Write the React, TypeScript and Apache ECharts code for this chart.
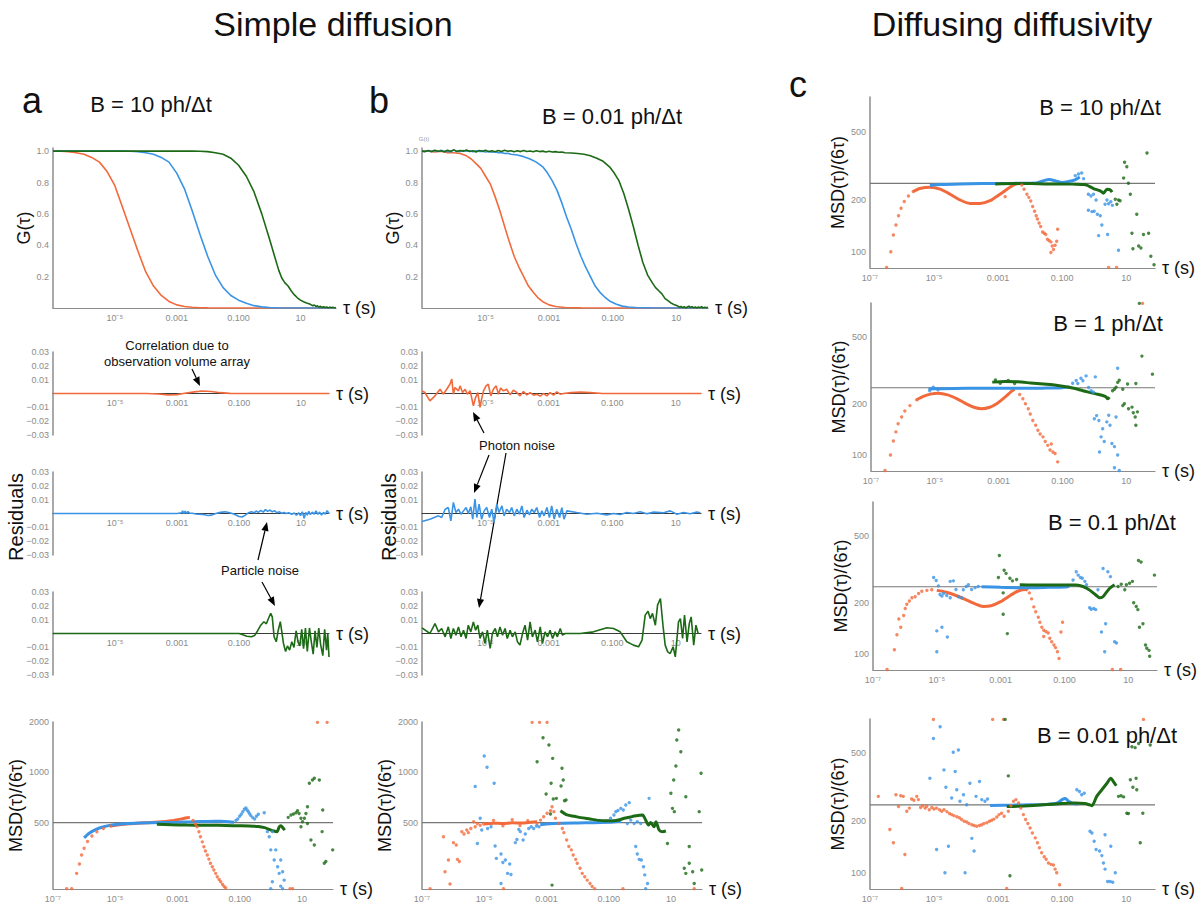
import React, { useEffect, useRef } from 'react';
import * as echarts from 'echarts';

type P = [number, number][];

const ORANGE = '#F26A3B';
const BLUE = '#3A94E6';
const GREEN = '#1C6A15';
const FONT = '"Liberation Sans", Arial, Helvetica, sans-serif';

// x values are log10(τ / s)
const X_TICK_TEXT: Record<string, string> = { '-7': '10⁻⁷', '-5': '10⁻⁵', '-3': '0.001', '-1': '0.100', '1': '10' };
const MSD_AB_TICKS = [500, 1000, 2000];
const MSD_C_TICKS = [100, 200, 500];
const MSD_TRUE_AB = 500;
const MSD_TRUE_C = 250;

// ---------- Panel a : G(tau), B = 10 ----------
const gA_orange: P = [[-7,1],[-6.75,0.999],[-6.5,0.997],[-6.25,0.99],[-6,0.98],[-5.75,0.96],[-5.5,0.93],[-5.25,0.87],[-5,0.78],[-4.75,0.64],[-4.5,0.5],[-4.25,0.36],[-4,0.23],[-3.75,0.14],[-3.5,0.08],[-3.25,0.042],[-3,0.02],[-2.75,0.01],[-2.5,0.005],[-2.25,0.002],[-2,0.001],[-1.5,0],[2.15,0]];
const gA_blue: P = [[-7,1],[-4.75,1],[-4.5,0.999],[-4.25,0.997],[-4,0.99],[-3.75,0.98],[-3.5,0.96],[-3.25,0.93],[-3,0.86],[-2.75,0.76],[-2.5,0.62],[-2.25,0.47],[-2,0.33],[-1.75,0.21],[-1.5,0.13],[-1.25,0.08],[-1,0.05],[-0.75,0.03],[-0.5,0.015],[-0.25,0.007],[0,0.003],[0.25,0.001],[0.5,0],[2.15,0]];
const gA_green: P = [[-7,1],[-2.5,1],[-2.25,0.999],[-2,0.997],[-1.75,0.99],[-1.5,0.98],[-1.25,0.955],[-1,0.91],[-0.75,0.84],[-0.5,0.74],[-0.25,0.6],[0,0.44],[0.15,0.34],[0.3,0.24],[0.4,0.19],[0.5,0.16],[0.6,0.14],[0.7,0.11],[0.8,0.085],[0.9,0.065],[1.0,0.05],[1.1,0.04],[1.2,0.032],[1.3,0.025],[1.35,0.02],[1.4,0.014],[1.45,0.019],[1.5,0.01],[1.55,0.014],[1.6,0.006],[1.65,0.011],[1.7,0.003],[1.75,0.009],[1.8,0.002],[1.85,0.007],[1.9,0.0],[1.95,0.006],[2.0,0.001],[2.05,0.005],[2.1,0.0],[2.15,0.003]];

// ---------- Panel a : residuals ----------
const rA_orange: P = [[-7,0],[-4,0],[-3.6,-0.0004],[-3.3,-0.001],[-3.0,-0.0008],[-2.8,0],[-2.5,0.001],[-2.2,0.0018],[-1.9,0.0015],[-1.6,0.0006],[-1.3,0.0001],[-1,0],[1.9,0]];
const rA_blue: P = [[-7,0],[-3.0,0],[-2.85,0.0005],[-2.82,0.002],[-2.78,-0.0002],[-2.74,0.0018],[-2.7,0],[-2.65,0.0015],[-2.6,0.0003],[-2.5,0.0002],[-2.4,-0.0004],[-2.2,-0.0006],[-2.0,-0.0015],[-1.9,-0.0012],[-1.75,0],[-1.6,0.0008],[-1.45,0.0012],[-1.3,0.0005],[-1.15,-0.0005],[-1.0,-0.0022],[-0.9,-0.0025],[-0.8,-0.0012],[-0.7,0.0005],[-0.6,0.0012],[-0.5,0.0006],[-0.45,0.0018],[-0.38,0.0008],[-0.3,0.0022],[-0.22,0.001],[-0.15,0.0028],[-0.08,0.0015],[0,0.0025],[0.07,0.0012],[0.15,0.002],[0.22,0.0005],[0.3,0.0012],[0.38,0.0002],[0.45,0.0008],[0.52,0],[0.6,0.0006],[0.7,-0.0005],[0.78,0.0004],[0.85,-0.0012],[0.92,0.0006],[0.98,-0.0015],[1.04,0.0012],[1.1,-0.0034],[1.15,0.0008],[1.2,-0.0012],[1.25,0.0015],[1.3,-0.0008],[1.36,0.001],[1.42,-0.0005],[1.48,0.0018],[1.54,-0.0006],[1.6,0.001],[1.66,-0.0012],[1.72,0.0008],[1.78,-0.0004],[1.84,0.002],[1.9,0]];
const rA_green: P = [[-7,0],[-1.0,0],[-0.9,-0.0008],[-0.75,-0.002],[-0.6,-0.0024],[-0.5,-0.0015],[-0.4,0.002],[-0.3,0.006],[-0.2,0.0085],[-0.12,0.007],[-0.05,0.011],[0.02,0.0145],[0.07,0.012],[0.13,-0.0024],[0.2,-0.006],[0.26,0.002],[0.33,0.0085],[0.38,0.001],[0.43,-0.007],[0.5,-0.013],[0.56,-0.009],[0.63,-0.012],[0.7,-0.006],[0.77,-0.01],[0.84,0.002],[0.9,-0.006],[0.96,-0.009],[1.02,0.003],[1.08,-0.011],[1.14,0.004],[1.2,-0.013],[1.27,0.004],[1.33,-0.006],[1.39,-0.015],[1.45,0.002],[1.51,-0.01],[1.57,0.004],[1.63,-0.008],[1.7,-0.016],[1.76,0.003],[1.82,-0.012],[1.86,0],[1.9,-0.017]];

// ---------- Panel a : MSD ----------
const mA_orangeDots: P = [[-6.56,201],[-6.4,201],[-6.24,248],[-6.15,282],[-6.08,320],[-6.0,351],[-5.89,385],[-5.75,415],[-5.59,440],[-5.38,461],[-5.15,476],[-2.5,515],[-2.42,490],[-2.37,472],[-2.31,440],[-2.26,411],[-2.2,383],[-2.15,358],[-2.1,338],[-2.04,320],[-1.99,302],[-1.94,285],[-1.88,272],[-1.83,260],[-1.77,248],[-1.72,237],[-1.66,228],[-1.61,221],[-1.55,213],[-1.5,207],[-1.45,203],[0.62,201],[0.7,201],[1.5,1990],[1.81,1990]];
const mA_orangeBand: P = [[-5.15,476],[-4.8,487],[-4.4,494],[-4,498],[-3.6,503],[-3.2,512],[-2.9,524],[-2.7,534],[-2.6,537]];
const mA_blueBand: P = [[-6.0,405],[-5.85,430],[-5.65,452],[-5.4,470],[-5.1,483],[-4.7,492],[-4.2,497],[-3.5,500],[-3,502],[-2.5,505],[-2,508],[-1.6,509],[-1.35,506],[-1.18,502]];
const mA_blueDots: P = [[-1.12,515],[-1.06,525],[-1.0,545],[-0.95,560],[-0.9,580],[-0.85,600],[-0.8,612],[-0.76,595],[-0.72,580],[-0.68,565],[-0.64,550],[-0.58,535],[-0.52,525],[-0.46,545],[-0.4,560],[-0.21,573],[-0.11,441],[-0.05,411],[0,343],[0.05,441],[0.05,221],[0.11,298],[0.16,343],[0.22,272],[0.27,248],[0.32,298],[0.32,208],[0.38,254],[0.43,226],[0,201],[0.38,201]];
const mA_greenBand: P = [[-3.66,488],[-3.2,485],[-2.7,483],[-2.2,482],[-1.7,481],[-1.2,479],[-0.7,477],[-0.4,474],[-0.2,466],[-0.05,455],[0.1,445],[0.2,441],[0.27,470],[0.32,479],[0.4,462],[0.45,450]];
const mA_greenDots: P = [[0.56,537],[0.65,555],[0.73,562],[0.81,573],[0.86,589],[0.91,567],[0.97,530],[0.97,472],[1.02,506],[1.08,530],[1.13,567],[1.18,622],[1.18,494],[1.24,859],[1.29,393],[1.34,899],[1.4,920],[1.4,367],[1.56,899],[1.65,441],[1.67,594],[1.72,285],[1.77,292],[1.99,343]];

// ---------- Panel b : G(tau), B = 0.01 ----------
const gB_orange: P = [[-7,1],[-6.8,1],[-6.6,0.995],[-6.4,1],[-6.2,0.99],[-6,0.99],[-5.8,0.985],[-5.6,0.97],[-5.45,0.95],[-5.3,0.92],[-5.15,0.89],[-5,0.84],[-4.85,0.79],[-4.7,0.71],[-4.55,0.62],[-4.4,0.52],[-4.25,0.42],[-4.1,0.33],[-3.95,0.26],[-3.8,0.2],[-3.65,0.14],[-3.5,0.1],[-3.35,0.065],[-3.2,0.04],[-3,0.02],[-2.8,0.01],[-2.5,0.003],[-2,0.001],[-1,0],[2,0]];
const gB_blue: P = [[-7,1],[-6.9,0.998],[-6.8,1.003],[-6.7,0.996],[-6.6,1.004],[-6.5,0.997],[-6.4,1.006],[-6.3,0.998],[-6.2,1],[-6.1,0.995],[-6,1.008],[-5.9,1],[-5.8,0.997],[-5.7,1.004],[-5.6,0.999],[-5.5,1.002],[-5.4,0.996],[-5.3,1.003],[-5.2,0.998],[-5.1,1],[-5,0.995],[-4.9,0.998],[-4.8,0.993],[-4.7,0.996],[-4.6,0.99],[-4.5,0.992],[-4.4,0.985],[-4.3,0.986],[-4.2,0.98],[-4,0.975],[-3.8,0.965],[-3.6,0.95],[-3.4,0.93],[-3.2,0.9],[-3.05,0.86],[-2.9,0.81],[-2.75,0.75],[-2.6,0.67],[-2.45,0.58],[-2.3,0.5],[-2.15,0.41],[-2,0.33],[-1.85,0.26],[-1.7,0.2],[-1.55,0.14],[-1.4,0.1],[-1.25,0.07],[-1.1,0.045],[-0.9,0.025],[-0.7,0.012],[-0.5,0.006],[-0.2,0.002],[0.2,0.001],[1,0],[1.7,0.001],[2,0]];
const gB_green: P = [[-7,1],[-6.9,0.997],[-6.8,1.004],[-6.7,0.998],[-6.6,1.006],[-6.5,0.999],[-6.4,1.003],[-6.3,0.996],[-6.2,1.005],[-6.1,0.999],[-6,1.008],[-5.9,0.997],[-5.8,1.004],[-5.7,1],[-5.6,1.007],[-5.5,0.998],[-5.4,1.003],[-5.3,0.995],[-5.2,1.004],[-5.1,0.999],[-5,1.006],[-4.9,0.997],[-4.8,1.002],[-4.7,0.996],[-4.6,1.004],[-4.5,0.998],[-4.4,1.005],[-4.3,0.999],[-4.2,1.003],[-4.1,0.996],[-4,1.002],[-3.9,0.997],[-3.8,1.004],[-3.7,0.998],[-3.6,1.001],[-3.5,0.996],[-3.4,1.003],[-3.3,0.997],[-3.2,1],[-3.1,0.995],[-3,0.999],[-2.9,0.994],[-2.8,0.997],[-2.7,0.993],[-2.6,0.995],[-2.5,0.99],[-2.3,0.988],[-2.1,0.985],[-1.9,0.98],[-1.7,0.97],[-1.5,0.955],[-1.3,0.935],[-1.1,0.9],[-0.95,0.86],[-0.8,0.81],[-0.65,0.73],[-0.5,0.63],[-0.35,0.52],[-0.2,0.4],[-0.05,0.29],[0.1,0.21],[0.25,0.16],[0.35,0.13],[0.45,0.11],[0.55,0.09],[0.65,0.06],[0.75,0.045],[0.85,0.03],[0.95,0.02],[1.05,0.012],[1.1,0.005],[1.15,0.01],[1.2,0.002],[1.25,0.008],[1.3,0],[1.35,0.006],[1.4,0.012],[1.45,0.003],[1.5,0.009],[1.55,0.001],[1.6,0.007],[1.65,0],[1.7,0.006],[1.75,0.002],[1.8,0.008],[1.85,0],[1.9,0.005],[1.95,0.001],[2,0.004]];

// ---------- Panel b : residuals ----------
const rB_orange: P = [[-7,0.0019],[-6.91,0.0007],[-6.75,-0.0053],[-6.59,-0.0017],[-6.43,0.0031],[-6.33,-0.0005],[-6.22,0.0031],[-6.12,0.0067],[-6.06,0.0104],[-6.01,-0.0005],[-5.96,0.0043],[-5.85,0.0019],[-5.8,0.0055],[-5.72,0.0007],[-5.64,0.0031],[-5.57,-0.0005],[-5.48,0.0019],[-5.38,-0.0089],[-5.31,-0.0029],[-5.24,0.0007],[-5.17,-0.0101],[-5.12,-0.0041],[-5.06,0.0019],[-4.98,0.0055],[-4.91,0.0067],[-4.83,-0.0017],[-4.75,0.0031],[-4.66,0.0055],[-4.59,-0.0005],[-4.52,0.0039],[-4.43,0.0019],[-4.33,0.0031],[-4.22,-0.001],[-4.12,0.0024],[-4.01,0.0007],[-3.91,-0.0017],[-3.8,0.0014],[-3.69,-0.001],[-3.59,0.0007],[-3.48,-0.0012],[-3.38,-0.0005],[-3.27,-0.0019],[-3.17,0],[-3.06,-0.0017],[-2.96,0.0007],[-2.85,-0.0012],[-2.75,0.0012],[-2.64,-0.0005],[-2.54,0],[-2.3,0.0006],[-2.0,0.001],[-1.7,0.0006],[-1.3,0],[1.8,0]];
const rB_blue: P = [[-7,-0.0058],[-6.75,-0.0041],[-6.48,-0.0017],[-6.38,-0.0029],[-6.27,0.0031],[-6.17,0.0043],[-6.09,-0.0053],[-6.01,0.008],[-5.93,0.0007],[-5.85,0.0031],[-5.77,-0.0005],[-5.69,0.0019],[-5.61,0.0043],[-5.54,0],[-5.46,0.0048],[-5.4,-0.0041],[-5.33,0.0104],[-5.27,-0.0029],[-5.2,0.0067],[-5.12,-0.0041],[-5.04,0.0019],[-4.96,0.0043],[-4.87,-0.0029],[-4.8,0.0031],[-4.73,-0.0065],[-4.64,0.0067],[-4.57,0.0007],[-4.48,0.0055],[-4.41,-0.0017],[-4.33,0.0031],[-4.24,0.0007],[-4.17,0.0043],[-4.09,-0.0017],[-4.01,0.0031],[-3.93,-0.0005],[-3.85,0.0055],[-3.78,-0.0029],[-3.69,0.0024],[-3.61,-0.001],[-3.54,0.0031],[-3.46,0.0007],[-3.38,0.0043],[-3.29,-0.0029],[-3.22,0.0019],[-3.15,-0.0017],[-3.06,0.0043],[-2.98,-0.0029],[-2.91,0.0055],[-2.83,-0.0041],[-2.75,0.0031],[-2.66,-0.0029],[-2.59,0.0043],[-2.52,-0.0041],[-2.43,0.0019],[-2.12,0.0007],[-1.8,-0.0005],[-1.48,0.0002],[-1.17,-0.001],[-0.96,0],[-0.75,-0.0007],[-0.54,0.0007],[-0.33,0],[-0.12,0.0012],[0.09,-0.0002],[0.31,0.001],[0.62,0.0005],[0.83,0.0019],[1.04,-0.0005],[1.25,0.0007],[1.46,-0.0002],[1.67,0.001],[1.78,0.0005]];
const rB_green: P = [[-7,0.0041],[-6.75,0],[-6.59,0.0072],[-6.48,0.0012],[-6.38,0.0036],[-6.27,-0.0024],[-6.17,0.0048],[-6.09,-0.0036],[-6.01,0.0036],[-5.93,-0.0012],[-5.85,0.0048],[-5.77,-0.0024],[-5.69,0.0024],[-5.61,-0.0036],[-5.54,0.006],[-5.46,0.0012],[-5.38,0.0084],[-5.31,0.0024],[-5.24,0.006],[-5.17,-0.0036],[-5.09,0.0012],[-5.01,-0.0072],[-4.94,0.0024],[-4.85,-0.0108],[-4.78,0],[-4.69,0.0036],[-4.62,-0.0024],[-4.54,0.0048],[-4.46,-0.0012],[-4.38,0.0036],[-4.31,-0.0036],[-4.22,0.0024],[-4.15,-0.0024],[-4.06,0.0012],[-3.99,-0.006],[-3.91,-0.0084],[-3.83,0],[-3.75,0.006],[-3.67,-0.0048],[-3.59,0.0084],[-3.52,-0.0024],[-3.43,0.0024],[-3.36,-0.006],[-3.27,0.0048],[-3.2,-0.0072],[-3.12,0.0012],[-3.04,-0.0024],[-2.96,0.0024],[-2.88,-0.0036],[-2.8,0.0012],[-2.73,-0.0024],[-2.64,0.0036],[-2.57,-0.0012],[-2.48,0],[-2.01,0],[-1.59,0.0012],[-1.17,0.0041],[-0.96,0.0036],[-0.75,0.0012],[-0.54,-0.006],[-0.33,-0.0084],[-0.17,-0.0096],[-0.06,-0.0048],[0.04,0.0133],[0.13,0.0161],[0.2,0.0108],[0.27,0.0145],[0.36,0.006],[0.43,0.0205],[0.52,0.0253],[0.6,0.006],[0.67,-0.0084],[0.75,-0.0133],[0.83,-0.0145],[0.92,-0.0096],[0.99,-0.0169],[1.09,0.0084],[1.15,0.0108],[1.22,-0.0036],[1.28,0.0133],[1.36,-0.006],[1.43,0.0072],[1.49,0.012],[1.57,-0.0084],[1.64,0.006],[1.71,0]];

// ---------- Panel b : MSD ----------
const mB_orangeDots: P = [[-6.74,201],[-6.31,411],[-6.26,254],[-6.15,298],[-6.1,214],[-5.99,379],[-5.9,367],[-5.86,301],[-5.8,292],[-5.72,441],[-5.65,427],[-5.56,451],[-5.51,435],[-5.43,461],[-5.34,506],[-5.29,472],[-5.22,494],[-5.13,481],[-5.02,490],[-4.7,515],[-4.4,478],[-4.1,520],[-3.85,480],[-3.6,512],[-3.3,494],[-3.19,517],[-3.09,542],[-2.98,568],[-2.87,589],[-2.82,622],[-2.76,581],[-2.71,530],[-2.6,494],[-2.49,461],[-2.44,435],[-2.35,393],[-2.28,359],[-2.2,343],[-2.14,320],[-2.06,301],[-2.01,285],[-1.92,266],[-1.85,248],[-1.77,237],[-1.69,226],[-1.6,216],[-1.53,207],[-1.45,201],[-4.38,201],[-0.54,201],[1.75,201],[-3.46,1990],[-3.22,1990],[-2.98,1990]];
const mB_orangeBand: P = [[-5.0,490],[-4.7,496],[-4.4,493],[-4.1,498],[-3.8,497],[-3.5,502],[-3.3,506]];
const mB_blueDots: P = [[-5.29,821],[-5.22,375],[-5.13,530],[-5.08,451],[-5.0,1250],[-4.91,1072],[-4.89,461],[-4.78,472],[-4.68,859],[-4.65,362],[-4.61,305],[-4.46,324],[-4.4,288],[-4.32,298],[-4.25,248],[-4.18,282],[-4.14,244],[-4.46,216],[-4.0,379],[-3.95,396],[-3.89,455],[-3.84,441],[-3.75,393],[-3.68,427],[-3.57,461],[-3.49,472],[-3.41,461],[-3.32,477],[-3.24,472],[-0.94,530],[-0.83,555],[-0.77,581],[-0.7,590],[-0.61,608],[-0.53,595],[-0.45,637],[-0.34,658],[-0.4,494],[-0.29,517],[-0.18,494],[-0.08,506],[0.03,494],[0.3,698],[-0.13,359],[-0.08,324],[-0.02,301],[0.05,298],[0.12,272],[0.16,243],[0.25,216],[0.19,201]];
const mB_blueBand: P = [[-3.2,485],[-3.0,490],[-2.5,495],[-2.0,497],[-1.5,499],[-1.0,502],[-0.8,505],[-0.6,508]];
const mB_greenDots: P = [[-3.3,1157],[-3.11,1611],[-2.92,1456],[-2.8,1211],[-3.01,741],[-2.85,859],[-2.78,692],[-2.68,698],[-2.5,1057],[-2.46,899],[-2.53,828],[-2.42,676],[-2.37,682],[-2.87,562],[-2.82,211],[0.89,375],[1.05,608],[1.11,581],[1.09,899],[1.16,1091],[1.19,1560],[1.25,1790],[1.32,1327],[1.0,748],[1.48,714],[1.59,359],[1.43,266],[1.48,248],[1.59,285],[1.7,254],[1.75,216],[1.91,581],[1.97,986],[1.99,260]];
const mB_greenBand: P = [[-2.55,589],[-2.33,555],[-2.1,545],[-1.9,535],[-1.6,525],[-1.37,517],[-1.1,513],[-0.83,513],[-0.65,520],[-0.5,530],[-0.3,540],[-0.18,547],[0,553],[0.09,555],[0.19,517],[0.28,483],[0.35,500],[0.46,472],[0.52,506],[0.62,451],[0.73,441],[0.84,445]];

// ---------- Panel c1 : B = 10 ----------
const c1_orangeDots: P = [[-6.48,81],[-6.35,100],[-6.27,125],[-6.19,143],[-6.11,162],[-6.03,179],[-5.93,196],[-5.8,211],[-5.65,224],[-2.78,209],[-2.26,244],[-2.19,231],[-2.1,216],[-2.04,207],[-1.98,197],[-1.92,183],[-1.86,172],[-1.81,162],[-1.77,155],[-1.72,147],[-1.67,140],[-1.61,130],[-1.56,128],[-1.51,126],[-1.46,118],[-1.41,116],[-1.35,114],[-1.31,108],[-1.27,103],[-1.35,99],[-1.22,109],[-1.17,115],[-1.14,135],[0.45,81],[0.7,81]];
const c1_orangeBand: P = [[-5.65,224],[-5.44,233],[-5.13,237],[-4.81,231],[-4.5,216],[-4.19,200],[-3.88,191],[-3.56,191],[-3.25,198],[-2.94,216],[-2.63,237],[-2.45,247],[-2.35,249]];
const c1_blueBand: P = [[-5.13,243],[-4.8,246],[-4.2,248],[-3.5,249],[-2.5,250],[-1.8,251],[-1.6,258],[-1.4,263],[-1.2,258],[-1.0,253],[-0.8,256],[-0.6,262],[-0.45,272]];
const c1_blueDots: P = [[-0.59,277],[-0.49,283],[-0.39,287],[-0.33,266],[-0.18,216],[-0.1,211],[-0.02,216],[0.06,200],[-0.18,174],[-0.07,171],[0,172],[0.1,165],[0.19,162],[0.24,143],[0.14,124],[0.34,189],[0.4,200],[0.45,190],[0.52,195],[0.57,186],[0.42,126],[0.76,102]];
const c1_greenBand: P = [[-3.09,248],[-2.5,249],[-2,249],[-1.5,248],[-1,248],[-0.6,247],[-0.33,246],[-0.23,244],[-0.02,233],[0.19,226],[0.29,219],[0.4,231],[0.5,229],[0.56,222]];
const c1_greenDots: P = [[0.66,202],[0.76,200],[0.71,189],[0.81,198],[0.92,268],[0.95,331],[1.02,312],[1.07,250],[1.13,216],[1.18,128],[1.21,104],[1.33,165],[1.39,108],[1.46,105],[1.54,126],[1.65,375],[1.7,128],[1.77,94],[1.87,84]];

// ---------- Panel c2 : B = 1 ----------
const c2_orangeDots: P = [[-6.56,81],[-6.39,100],[-6.3,121],[-6.22,137],[-6.15,153],[-6.04,168],[-5.94,182],[-5.78,196],[-5.57,212],[-2.34,228],[-2.24,215],[-2.16,201],[-2.07,188],[-2.01,175],[-1.93,160],[-1.84,150],[-1.77,140],[-1.7,133],[-1.61,128],[-1.54,120],[-1.46,114],[-1.39,107],[-1.3,104],[-1.23,102],[-1.35,116],[-1.15,91],[1.51,790]];
const c2_orangeBand: P = [[-5.57,212],[-5.36,222],[-5.1,230],[-4.9,232],[-4.6,227],[-4.3,215],[-4.0,200],[-3.75,191],[-3.54,188],[-3.3,191],[-3.05,202],[-2.8,220],[-2.6,238],[-2.5,245]];
const c2_blueBand: P = [[-5.2,246],[-4.8,247],[-4,248],[-3,248],[-2,248],[-1.5,249],[-1,250],[-0.78,254]];
const c2_blueDots: P = [[-5.16,240],[-5.05,252],[-4.9,243],[-0.68,266],[-0.57,276],[-0.52,265],[-0.42,285],[-0.36,275],[-0.26,294],[-0.18,251],[-0.1,240],[-0.03,235],[0.03,290],[0,164],[0.07,171],[0.14,160],[0.21,128],[0.26,143],[0.16,104],[0.31,120],[0.39,157],[0.45,172],[0.49,150],[0.55,117],[0.63,112],[0.68,168],[0.73,326],[0.73,100],[0.63,84],[0.78,81]];
const c2_greenBand: P = [[-3.2,270],[-2.8,272],[-2.4,271],[-2.0,267],[-1.6,263],[-1.2,259],[-0.68,249],[-0.36,240],[-0.16,235],[0.05,230],[0.26,225],[0.36,221],[0.42,215],[0.47,220]];
const c2_greenDots: P = [[-3.1,278],[-2.95,266],[-2.7,276],[-2.5,265],[0.57,240],[0.63,245],[0.68,252],[0.73,269],[0.78,277],[0.89,245],[1.04,263],[1.3,265],[0.89,196],[0.94,201],[1.07,188],[1.18,192],[1.22,178],[1.28,168],[1.35,180],[1.3,150],[1.49,385],[1.41,790],[1.82,301]];

// ---------- Panel c3 : B = 0.1 ----------
const c3_orangeDots: P = [[-6.56,81],[-6.33,106],[-6.25,130],[-6.19,161],[-6.13,144],[-6.04,169],[-5.99,186],[-5.94,197],[-5.86,206],[-5.78,215],[-5.68,218],[-5.57,228],[-5.47,235],[-5.31,238],[-5.16,240],[-2.1,230],[-2.03,212],[-1.96,190],[-1.9,178],[-1.82,165],[-1.77,154],[-1.71,144],[-1.65,138],[-1.58,136],[-1.51,133],[-1.46,124],[-1.4,118],[-1.33,113],[-1.28,109],[-1.22,103],[-1.17,94],[-1.11,135],[-1.06,154],[-1.65,127],[0.5,81],[0.76,81]];
const c3_orangeBand: P = [[-5.0,238],[-4.7,232],[-4.4,222],[-4.1,210],[-3.8,198],[-3.55,191],[-3.3,193],[-3.0,204],[-2.7,222],[-2.45,236],[-2.2,241],[-2.15,238]];
const c3_blueDots: P = [[-5.1,284],[-5.02,272],[-4.95,253],[-4.9,225],[-4.84,220],[-4.79,228],[-4.69,222],[-4.58,215],[-5.0,103],[-5.0,137],[-4.84,144],[-4.67,126],[-4.58,269],[-4.48,271],[-4.4,241],[-4.32,218],[-4.22,215],[-4.17,240],[-4.08,251],[-4.01,257],[-3.91,241],[-3.8,247],[-3.7,251],[-0.73,274],[-0.63,307],[-0.57,293],[-0.5,284],[-0.44,281],[-0.36,269],[-0.31,257],[-0.21,188],[-0.16,184],[-0.08,186],[-0.02,183],[0.05,240],[0.16,135],[0.21,321],[0.29,151],[0.26,103],[0.36,307],[0.44,287],[0.57,118],[0.63,116]];
const c3_blueBand: P = [[-3.6,250],[-3,248],[-2.5,247],[-2,247],[-1.5,248],[-1.0,249],[-0.85,252]];
const c3_greenBand: P = [[-2.4,257],[-2.0,256],[-1.5,256],[-1.0,256],[-0.63,256],[-0.4,250],[-0.2,238],[0,222],[0.1,215],[0.2,218],[0.3,230],[0.42,245],[0.57,257]];
const c3_greenDots: P = [[-3.04,383],[-2.89,313],[-2.83,300],[-2.92,230],[-2.92,172],[-2.79,132],[-3.07,284],[-2.71,281],[-2.63,271],[-2.5,276],[0.68,251],[0.78,259],[0.89,240],[0.94,257],[1.04,262],[1.13,269],[1.17,201],[1.25,191],[1.3,183],[1.35,144],[1.32,358],[1.4,350],[1.46,151],[1.54,113],[1.58,108],[1.65,105],[1.67,97],[1.82,293]];

// ---------- Panel c4 : B = 0.01 ----------
const c4_orangeDots: P = [[-6.74,280],[-6.38,179],[-6.27,150],[-6.19,286],[-6.11,244],[-6.04,282],[-5.96,280],[-5.91,128],[-5.85,229],[-5.77,239],[-5.7,270],[-5.63,266],[-5.54,280],[-5.49,268],[-5.42,241],[-5.35,247],[-5.28,239],[-5.23,244],[-5.15,234],[-5.07,241],[-5.0,236],[-4.92,239],[-4.83,234],[-4.76,229],[-4.69,234],[-4.6,228],[-4.52,222],[-4.45,219],[-4.38,216],[-4.29,213],[-4.21,210],[-4.14,205],[-4.06,200],[-3.98,198],[-3.91,194],[-3.82,191],[-3.75,189],[-3.67,187],[-3.58,189],[-3.51,191],[-3.44,194],[-3.35,196],[-3.27,200],[-3.2,203],[-3.13,206],[-3.04,212],[-2.97,219],[-2.89,223],[-2.81,214],[-2.68,229],[-2.6,247],[-2.52,262],[-2.44,268],[-2.36,256],[-2.29,239],[-2.21,219],[-2.14,205],[-2.07,194],[-2.0,183],[-1.93,171],[-1.84,160],[-1.77,150],[-1.71,140],[-1.64,131],[-1.56,124],[-1.5,120],[-1.43,114],[-1.35,112],[-1.27,111],[-1.22,105],[-1.17,100],[-1.08,85],[-5.02,790],[-3.17,790],[-2.83,790],[1.54,790],[-6.01,81],[-2.73,81]];
const c4_blueDots: P = [[-5.13,357],[-5.02,611],[-4.81,715],[-4.92,137],[-4.69,400],[-4.63,317],[-4.66,100],[-4.55,143],[-4.4,507],[-4.24,523],[-4.34,391],[-4.29,306],[-4.19,262],[-4.45,274],[-4.08,286],[-4.03,100],[-3.98,250],[-3.88,334],[-3.82,159],[-3.75,134],[-3.69,280],[-3.58,342],[-3.51,268],[-3.41,262],[-3.33,270],[-0.54,306],[-0.46,299],[-0.39,286],[-0.31,292],[-0.13,175],[-0.07,171],[0,153],[0.06,137],[0.17,134],[0.24,126],[0.29,114],[0.34,105],[0.42,89],[0.5,89],[0.58,88],[0.66,100],[0.52,143],[0.34,167]];
const c4_blueBand: P = [[-3.25,248],[-2.5,249],[-2.0,250],[-1.5,251],[-1.15,256],[-1.0,268],[-0.9,272],[-0.8,262],[-0.65,254],[-0.5,253]];
const c4_greenBand: P = [[-2.73,244],[-2.2,246],[-1.6,250],[-1.0,254],[-0.6,256],[-0.3,254],[-0.15,250],[-0.07,247],[0.08,280],[0.24,306],[0.4,334],[0.52,357],[0.6,342],[0.69,323]];
const c4_greenDots: P = [[-2.68,369],[-2.78,790],[-2.63,96],[0.76,280],[0.84,282],[0.92,278],[1.02,223],[1.07,222],[1.13,350],[1.21,317],[1.31,357],[1.33,306],[1.44,150],[1.52,223],[1.18,547],[1.28,540],[1.39,571],[1.75,560]];

// ---------------------------------------------------------------
type Kind = 'G' | 'R' | 'MA' | 'MC';
type Mode = 'line' | 'band' | 'dots' | 'ref';
interface S { data: P; color: string; mode: Mode }
interface Panel { kind: Kind; left: number; top: number; width: number; height: number; xMax: number; label7?: boolean; yName?: string; yNameGap?: number; series: S[] }

const L = (data: P, color: string): S => ({ data, color, mode: 'line' });
const B = (data: P, color: string): S => ({ data, color, mode: 'band' });
const D = (data: P, color: string): S => ({ data, color, mode: 'dots' });
const refAB: S = { data: [[-7, MSD_TRUE_AB], [2, MSD_TRUE_AB]], color: '#777', mode: 'ref' };
const refC: S = { data: [[-7, MSD_TRUE_C], [1.9, MSD_TRUE_C]], color: '#777', mode: 'ref' };

const PANELS: Panel[] = [
  { kind: 'G', left: 53, top: 148, width: 283, height: 160, xMax: 2.15, yName: 'G(τ)', yNameGap: 20, series: [L(gA_orange, ORANGE), L(gA_blue, BLUE), L(gA_green, GREEN)] },
  { kind: 'R', left: 53, top: 352, width: 276, height: 83, xMax: 1.9, series: [L(rA_orange, ORANGE)] },
  { kind: 'R', left: 53, top: 472, width: 276, height: 83, xMax: 1.9, series: [L(rA_blue, BLUE)] },
  { kind: 'R', left: 53, top: 592, width: 276, height: 83, xMax: 1.9, series: [L(rA_green, GREEN)] },
  { kind: 'MA', left: 53, top: 722, width: 280, height: 167, xMax: 2, label7: true, yName: 'MSD(τ)/(6τ)', yNameGap: 20,
    series: [refAB, D(mA_orangeDots, ORANGE), B(mA_orangeBand, ORANGE), B(mA_blueBand, BLUE), D(mA_blueDots, BLUE), B(mA_greenBand, GREEN), D(mA_greenDots, GREEN)] },
  { kind: 'G', left: 422, top: 148, width: 286, height: 160, xMax: 2.0, yName: 'G(τ)', yNameGap: 20, series: [L(gB_orange, ORANGE), L(gB_blue, BLUE), L(gB_green, GREEN)] },
  { kind: 'R', left: 422, top: 352, width: 279, height: 83, xMax: 1.8, series: [L(rB_orange, ORANGE)] },
  { kind: 'R', left: 422, top: 472, width: 279, height: 83, xMax: 1.8, series: [L(rB_blue, BLUE)] },
  { kind: 'R', left: 422, top: 592, width: 279, height: 83, xMax: 1.8, series: [L(rB_green, GREEN)] },
  { kind: 'MA', left: 422, top: 722, width: 280, height: 167, xMax: 2, label7: true, yName: 'MSD(τ)/(6τ)', yNameGap: 20,
    series: [refAB, D(mB_orangeDots, ORANGE), B(mB_orangeBand, ORANGE), B(mB_blueBand, BLUE), D(mB_blueDots, BLUE), B(mB_greenBand, GREEN), D(mB_greenDots, GREEN)] },
  { kind: 'MC', left: 870, top: 97, width: 285, height: 171, xMax: 1.9, label7: true, yName: 'MSD(τ)/(6τ)', yNameGap: 22,
    series: [refC, D(c1_orangeDots, ORANGE), B(c1_orangeBand, ORANGE), B(c1_blueBand, BLUE), D(c1_blueDots, BLUE), B(c1_greenBand, GREEN), D(c1_greenDots, GREEN)] },
  { kind: 'MC', left: 871, top: 303, width: 284, height: 168, xMax: 1.9, label7: true, yName: 'MSD(τ)/(6τ)', yNameGap: 22,
    series: [refC, D(c2_orangeDots, ORANGE), B(c2_orangeBand, ORANGE), B(c2_blueBand, BLUE), D(c2_blueDots, BLUE), B(c2_greenBand, GREEN), D(c2_greenDots, GREEN)] },
  { kind: 'MC', left: 873, top: 502, width: 284, height: 168, xMax: 1.9, label7: true, yName: 'MSD(τ)/(6τ)', yNameGap: 22,
    series: [refC, D(c3_orangeDots, ORANGE), B(c3_orangeBand, ORANGE), D(c3_blueDots, BLUE), B(c3_blueBand, BLUE), B(c3_greenBand, GREEN), D(c3_greenDots, GREEN)] },
  { kind: 'MC', left: 870, top: 719, width: 285, height: 170, xMax: 1.9, label7: true, yName: 'MSD(τ)/(6τ)', yNameGap: 22,
    series: [refC, D(c4_orangeDots, ORANGE), D(c4_blueDots, BLUE), B(c4_blueBand, BLUE), B(c4_greenBand, GREEN), D(c4_greenDots, GREEN)] },
];

const AXIS_GRAY = '#8c8c8c';

const xLabelFormatter = (label7?: boolean) => (v: number) => {
  const r = Math.round(v);
  if (Math.abs(v - r) > 1e-6) return '';
  if (r === -7 && !label7) return '';
  return X_TICK_TEXT[String(r)] || '';
};

function makeX(p: Panel, i: number, hidden: boolean) {
  return {
    type: 'value', gridIndex: i, min: -7, max: p.xMax, interval: 1,
    axisLine: { show: !hidden, onZero: false, lineStyle: { color: p.kind === 'R' ? '#3a3a3a' : AXIS_GRAY, width: p.kind === 'R' ? 1 : 1.2 } },
    axisTick: { show: false },
    splitLine: { show: false },
    axisLabel: { show: !hidden, color: AXIS_GRAY, fontSize: 9, fontFamily: FONT, margin: 5, formatter: xLabelFormatter(p.label7) },
    name: hidden ? '' : 'τ (s)', nameLocation: 'end', nameGap: 7,
    nameTextStyle: { fontSize: 18, color: '#111', fontFamily: FONT, align: 'left', verticalAlign: 'middle' },
  };
}

function makeY(p: Panel, i: number) {
  const base: any = {
    type: 'value', gridIndex: i,
    axisLine: { show: true, onZero: false, lineStyle: { color: AXIS_GRAY, width: 1.5 } },
    axisTick: { show: false },
    splitLine: { show: false },
    axisLabel: { color: AXIS_GRAY, fontSize: 9, fontFamily: FONT, margin: 4 },
  };
  if (p.yName) {
    base.name = p.yName;
    base.nameLocation = 'middle';
    base.nameGap = p.yNameGap;
    base.nameTextStyle = { fontSize: 18, color: '#111', fontFamily: FONT };
  }
  if (p.kind === 'G') {
    base.min = 0; base.max = 1.02; base.interval = 0.2;
    base.axisLabel.formatter = (v: number) => {
      const k = Math.round(v * 5);
      if (k < 1 || k > 5 || Math.abs(v * 5 - k) > 1e-6) return '';
      return (k / 5).toFixed(1);
    };
  } else if (p.kind === 'R') {
    base.min = -0.03; base.max = 0.03; base.interval = 0.01;
    base.axisLabel.formatter = (v: number) => (Math.abs(v) < 1e-9 ? '' : (v < 0 ? '−' : '') + Math.abs(v).toFixed(2));
  } else {
    const ticks = p.kind === 'MA' ? MSD_AB_TICKS : MSD_C_TICKS;
    if (p.kind === 'MA') { base.min = Math.log10(200); base.max = Math.log10(2000); }
    else { base.min = 1.905; base.max = 2.9; }
    base.axisLabel.customValues = ticks.map((t) => Math.log10(t));
    base.axisLabel.formatter = (v: number) => String(Math.round(Math.pow(10, v)));
  }
  return base;
}

function makeSeries(p: Panel, i: number, s: S) {
  const isLog = p.kind === 'MA' || p.kind === 'MC';
  const data = isLog ? s.data.map(([x, v]) => [x, Math.log10(v)]) : s.data;
  const common = { xAxisIndex: i, yAxisIndex: i, data, silent: true, animation: false };
  if (s.mode === 'dots') {
    return { ...common, type: 'scatter', symbol: 'circle', symbolSize: 3.4, itemStyle: { color: s.color }, clip: false, z: 3 };
  }
  if (s.mode === 'band') {
    return { ...common, type: 'line', showSymbol: false, smooth: 0.25, lineStyle: { color: s.color, width: 3 }, clip: false, z: 3 };
  }
  if (s.mode === 'ref') {
    return { ...common, type: 'line', showSymbol: false, lineStyle: { color: s.color, width: 1.2 }, z: 1 };
  }
  return { ...common, type: 'line', showSymbol: false, lineStyle: { color: s.color, width: 1.6 }, clip: true, z: 3 };
}

function txt(text: string, x: number, y: number, size: number, opts: any = {}) {
  return {
    type: 'text', x, y, rotation: opts.rotation || 0, silent: true,
    style: { text, font: `${size}px ${FONT}`, fill: opts.fill || '#111', textAlign: opts.align || 'center', textVerticalAlign: 'middle' },
  };
}

function arrow(x1: number, y1: number, x2: number, y2: number) {
  const ang = Math.atan2(y2 - y1, x2 - x1);
  const len = 9, w = 3.6;
  const bx = x2 - len * Math.cos(ang), by = y2 - len * Math.sin(ang);
  const px = -Math.sin(ang) * w, py = Math.cos(ang) * w;
  return [
    { type: 'line', silent: true, shape: { x1, y1, x2: bx, y2: by }, style: { stroke: '#000', lineWidth: 1.2 } },
    { type: 'polygon', silent: true, shape: { points: [[x2, y2], [bx + px, by + py], [bx - px, by - py]] }, style: { fill: '#000' } },
  ];
}

function graphics() {
  return [
    txt('Simple diffusion', 333, 24, 34),
    txt('Diffusing diffusivity', 1012, 24, 34),
    txt('a', 22, 100, 36, { align: 'left' }),
    txt('B = 10 ph/Δt', 151, 104, 22),
    txt('b', 369, 100, 36, { align: 'left' }),
    txt('B = 0.01 ph/Δt', 612, 116, 22),
    txt('c', 789, 84, 36, { align: 'left' }),
    txt('B = 10 ph/Δt', 1100, 107, 22),
    txt('B = 1 ph/Δt', 1108, 323, 22),
    txt('B = 0.1 ph/Δt', 1112, 522, 22),
    txt('B = 0.01 ph/Δt', 1107, 735, 22),
    txt('G(t)', 424, 139, 6, { fill: '#999' }),
    txt('Residuals', 16, 517, 20, { rotation: Math.PI / 2 }),
    txt('Residuals', 389, 517, 20, { rotation: Math.PI / 2 }),
    txt('Correlation due to', 177, 345, 13),
    txt('observation volume array', 177, 361, 13),
    ...arrow(192, 369, 200, 386),
    txt('Particle noise', 260, 570, 13),
    ...arrow(258, 560, 267, 522),
    ...arrow(262, 582, 275, 606),
    txt('Photon noise', 517, 445, 13),
    ...arrow(484, 433, 473, 412),
    ...arrow(489, 455, 474, 493),
    ...arrow(506, 453, 479, 608),
  ];
}

function buildOption() {
  const grid: any[] = [], xAxis: any[] = [], yAxis: any[] = [], series: any[] = [];
  PANELS.forEach((p) => {
    const i = grid.length;
    grid.push({ left: p.left, top: p.top, width: p.width, height: p.height, containLabel: false });
    xAxis.push(makeX(p, i, p.kind === 'R'));
    yAxis.push(makeY(p, i));
    p.series.forEach((s) => series.push(makeSeries(p, i, s)));
    if (p.kind === 'R') {
      // thin helper grid whose bottom edge sits on the residual zero line: carries the τ axis
      const j = grid.length;
      const zeroY = p.top + p.height / 2;
      grid.push({ left: p.left, top: zeroY - 1, width: p.width, height: 1, containLabel: false });
      xAxis.push(makeX(p, j, false));
      yAxis.push({ type: 'value', gridIndex: j, show: false, min: 0, max: 1 });
    }
  });
  return {
    animation: false,
    backgroundColor: '#ffffff',
    textStyle: { fontFamily: FONT },
    grid, xAxis, yAxis, series,
    graphic: { elements: graphics() },
  };
}

export default function App() {
  const ref = useRef<HTMLDivElement>(null);
  useEffect(() => {
    if (!ref.current) return;
    const chart = echarts.init(ref.current, undefined, { renderer: 'svg' });
    chart.setOption(buildOption() as any);
    return () => chart.dispose();
  }, []);
  return <div ref={ref} style={{ position: 'absolute', left: 0, top: 0, width: 1200, height: 903, background: '#fff' }} />;
}
